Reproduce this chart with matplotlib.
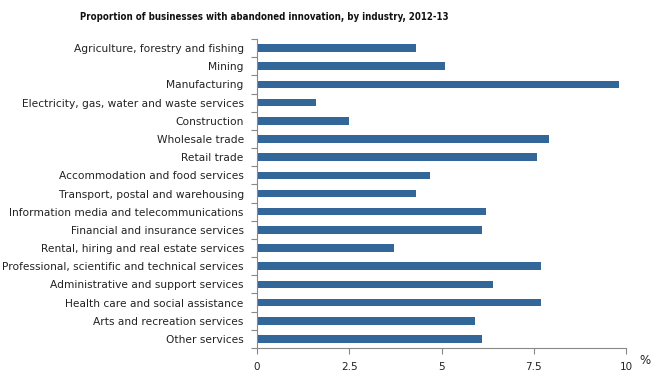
import matplotlib
matplotlib.use("Agg")
import matplotlib.pyplot as plt
import numpy as np

categories = [
    "Agriculture, forestry and fishing",
    "Mining",
    "Manufacturing",
    "Electricity, gas, water and waste services",
    "Construction",
    "Wholesale trade",
    "Retail trade",
    "Accommodation and food services",
    "Transport, postal and warehousing",
    "Information media and telecommunications",
    "Financial and insurance services",
    "Rental, hiring and real estate services",
    "Professional, scientific and technical services",
    "Administrative and support services",
    "Health care and social assistance",
    "Arts and recreation services",
    "Other services",
]
values = [4.3, 5.1, 9.8, 1.6, 2.5, 7.9, 7.6, 4.7, 4.3, 6.2, 6.1, 3.7, 7.7, 6.4, 7.7, 5.9, 6.1]
xticks = [0, 2.5, 5, 7.5, 10]
xticklabels = ["0", "2.5", "5", "7.5", "10"]

W, H = 663, 377
fig = plt.figure(figsize=(W / 100, H / 100), dpi=100)
ax = fig.add_axes([257 / W, 1 - 348 / H, (626 - 257) / W, (348 - 39) / H])

n = len(categories)
y = np.arange(n)
ax.barh(y, values, height=0.42, color="#336699")
ax.set_ylim(n - 0.5, -0.5)
ax.set_xlim(0, 10)

ax.set_yticks(y)
ax.set_yticklabels(categories, fontsize=7.7, color="#222222")
ax.tick_params(axis="y", length=0, pad=9.5)
ax.set_yticks(np.arange(-0.5, n, 1), minor=True)
ax.tick_params(axis="y", which="minor", length=4, color="#888888", width=0.8)

ax.set_xticks(xticks)
ax.set_xticklabels(xticklabels, fontsize=7.5, color="#222222")
ax.tick_params(axis="x", length=4, color="#888888", width=0.8, pad=6)

for s in ["top", "right"]:
    ax.spines[s].set_visible(False)
for s in ["left", "bottom"]:
    ax.spines[s].set_color("#888888")
    ax.spines[s].set_linewidth(0.8)

fig.text(645 / W, 1 - 361 / H, "%", fontsize=8.5, ha="center", va="center", color="#222222")
fig.text(264 / W, 1 - 17 / H, "Proportion of businesses with abandoned innovation, by industry, 2012-13",
         fontsize=6.9, fontweight="bold", fontstretch="condensed", family="DejaVu Sans",
         ha="center", va="center", color="#111111")

fig.savefig("out.png", dpi=100)
